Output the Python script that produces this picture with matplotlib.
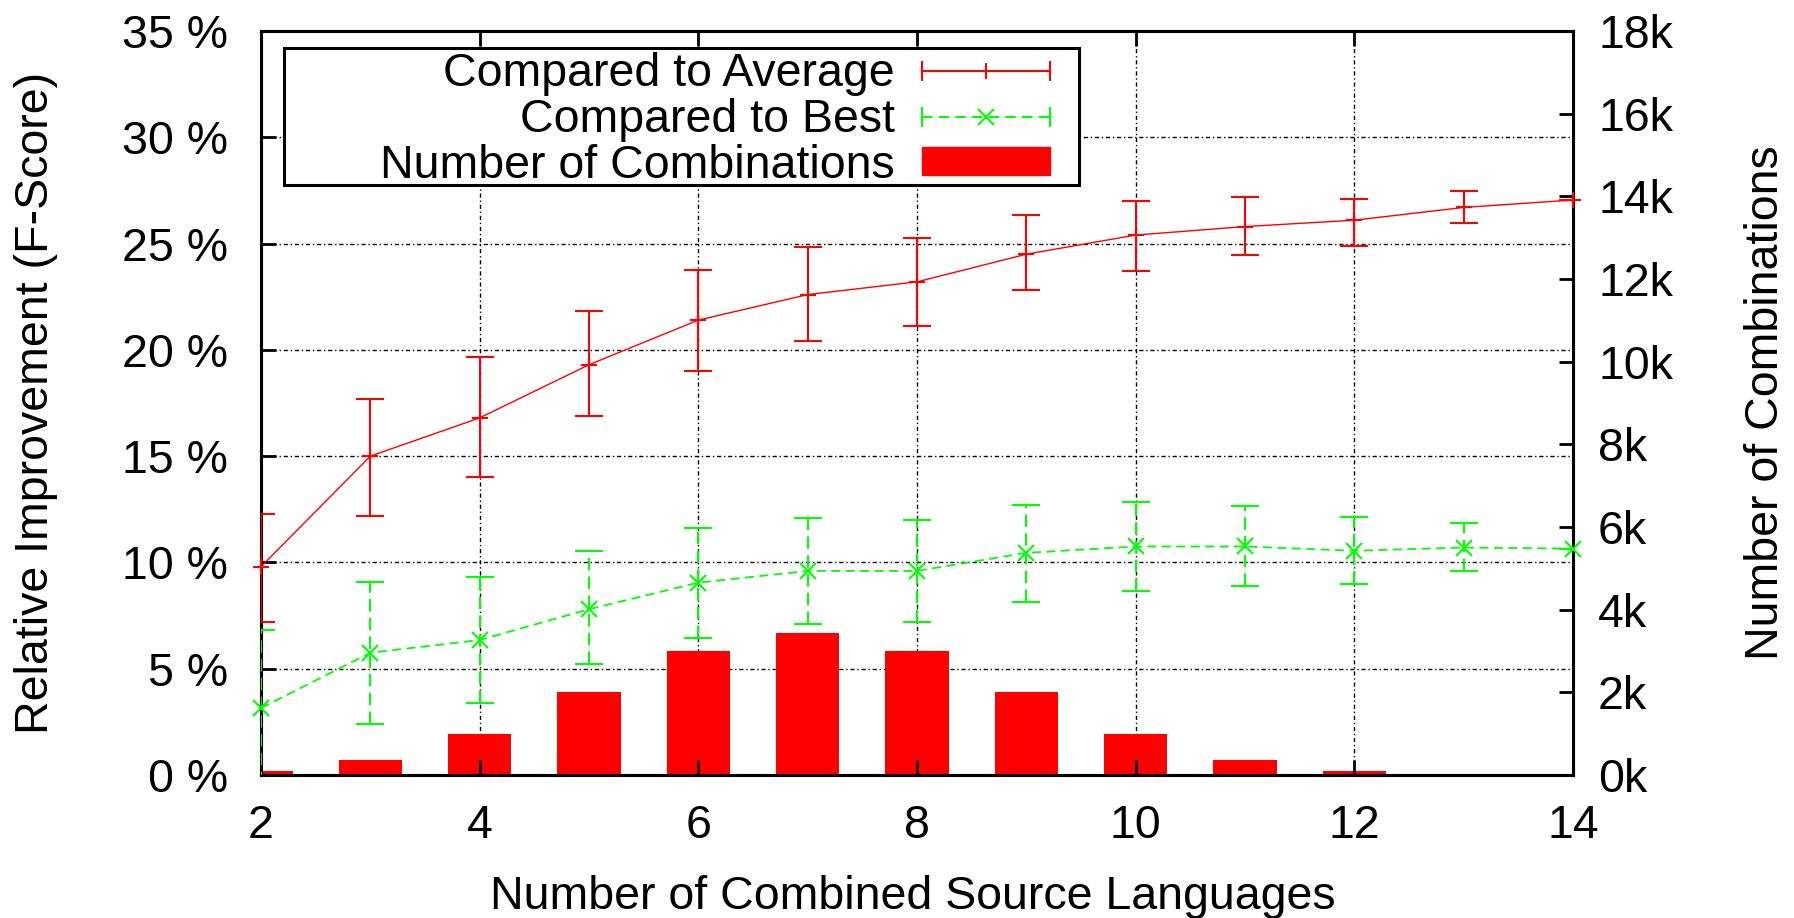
import numpy as np
import matplotlib.pyplot as plt
from matplotlib.lines import Line2D
from matplotlib.patches import Patch, Rectangle
from matplotlib.legend_handler import HandlerLine2D, HandlerTuple
from matplotlib.ticker import FuncFormatter, MultipleLocator

plt.rcParams['font.family'] = ['Liberation Sans', 'DejaVu Sans']

# number of combined source languages
n_lang = [2, 3, 4, 5, 6, 7, 8, 9, 10, 11, 12, 13, 14]

# relative improvement compared to average (%), with error range
avg_mean = [9.8, 15.0, 16.8, 19.3, 21.4, 22.6, 23.2, 24.5, 25.4, 25.8, 26.1, 26.7, 27.05]
avg_low = [7.2, 12.2, 14.0, 16.9, 19.0, 20.4, 21.1, 22.8, 23.7, 24.45, 24.9, 25.95, 27.05]
avg_high = [12.3, 17.7, 19.65, 21.85, 23.75, 24.85, 25.25, 26.35, 27.0, 27.2, 27.1, 27.45, 27.05]

# relative improvement compared to best (%), with error range
best_mean = [3.15, 5.75, 6.35, 7.8, 9.05, 9.6, 9.6, 10.45, 10.75, 10.75, 10.55, 10.7, 10.65]
best_low = [-0.4, 2.4, 3.4, 5.2, 6.45, 7.1, 7.2, 8.15, 8.65, 8.9, 9.0, 9.6, 10.65]
best_high = [6.8, 9.1, 9.3, 10.55, 11.6, 12.1, 12.0, 12.7, 12.85, 12.65, 12.15, 11.85, 10.65]

# number of combinations (right axis)
n_comb = [91, 364, 1001, 2002, 3003, 3432, 3003, 2002, 1001, 364, 91, 14, 1]

RED = '#ff0000'
GREEN = '#00ff00'
FS = 33.5

x = np.array(n_lang)
am, al, ah = np.array(avg_mean), np.array(avg_low), np.array(avg_high)
bm, bl, bh = np.array(best_mean), np.array(best_low), np.array(best_high)

fig = plt.figure(figsize=(17.94, 9.18), dpi=100)
ax = fig.add_axes([261 / 1794, 1 - 775 / 918, 1312 / 1794, 744 / 918])
ax2 = ax.twinx()
ax.set_zorder(ax2.get_zorder() + 1)
ax.patch.set_visible(False)

# bars on the right-hand scale
ax2.bar(x, n_comb, width=0.58, color=RED, zorder=3)
ax2.set_ylim(0, 18000)
ax2.yaxis.set_major_locator(MultipleLocator(2000))
ax2.yaxis.set_major_formatter(FuncFormatter(lambda v, p: f"{v / 1000:.0f}k"))

# grid sits behind the bars
grid_ls = (0, (3, 2, 1, 2))
ax2.vlines(np.arange(4, 14, 2), 0, 1, transform=ax.get_xaxis_transform(),
           colors='black', lw=1.0, linestyles=[grid_ls], zorder=1)
ax2.hlines(np.arange(5, 35, 5), 0, 1, transform=ax.get_yaxis_transform(),
           colors='black', lw=1.0, linestyles=[grid_ls], zorder=1)

# error bars (clipped) and lines/points (not clipped)
ax.errorbar(x, am, yerr=[am - al, ah - am], fmt='none', ecolor=RED,
            elinewidth=1.5, capsize=10, capthick=1.5, zorder=3)
ax.plot(x, am, color=RED, lw=1.0, marker='+', ms=11, mew=1.5, clip_on=False, zorder=4)

eb = ax.errorbar(x, bm, yerr=[bm - bl, bh - bm], fmt='none', ecolor=GREEN,
                 elinewidth=1.5, capsize=10, capthick=1.5, zorder=3)
eb[2][0].set_linestyle((0, (6, 3)))
ax.plot(x, bm, color=GREEN, lw=1.3, linestyle=(0, (5, 3)), marker='x', ms=12, mew=1.5,
        clip_on=False, zorder=4)

ax.set_xlim(2, 14)
ax.set_ylim(0, 35)
ax.xaxis.set_major_locator(MultipleLocator(2))
ax.yaxis.set_major_locator(MultipleLocator(5))
ax.yaxis.set_major_formatter(FuncFormatter(lambda v, p: f"{v:.0f} %"))

ax.tick_params(axis='x', direction='in', top=True, length=11, width=2, labelsize=FS, pad=21)
ax.tick_params(axis='y', direction='in', left=True, right=False, length=11, width=2,
               labelsize=FS, pad=24)
ax2.tick_params(axis='y', direction='in', right=True, left=False, length=10, width=2,
                labelsize=FS, pad=18)
for a in (ax, ax2):
    for s in a.spines.values():
        s.set_linewidth(2.2)

ax.set_xlabel('Number of Combined Source Languages', fontsize=FS)
ax.xaxis.set_label_coords(0.497, -0.135)
ax.set_ylabel('Relative Improvement (F-Score)', fontsize=FS)
ax.yaxis.set_label_coords(-0.155, 0.5)
ax2.set_ylabel('Number of Combinations', fontsize=FS)
ax2.yaxis.set_label_coords(1.130, 0.5)

# key box (gnuplot leaves room left of the text)
ax.add_patch(Rectangle((0.0175, 0.793), 0.606, 0.184, transform=ax.transAxes,
                       facecolor='white', edgecolor='black', lw=2.2, zorder=4.5))

# legend in gnuplot style: text right, sample left
red_line = Line2D([], [], color=RED, lw=1.5, marker='|', ms=14, mew=1.5)
red_mid = Line2D([], [], color=RED, ls='none', marker='|', ms=11, mew=1.5)
green_line = Line2D([], [], color=GREEN, lw=1.5, ls=(0, (5, 3)), marker='|', ms=14, mew=1.5)
green_mid = Line2D([], [], color=GREEN, ls='none', marker='x', ms=12, mew=1.5)
bar_patch = Patch(facecolor=RED, edgecolor=RED)
leg = ax.legend([(red_line, red_mid), (green_line, green_mid), bar_patch],
                ['Compared to Average', 'Compared to Best', 'Number of Combinations'],
                handler_map={red_line: HandlerLine2D(numpoints=2, marker_pad=0),
                             green_line: HandlerLine2D(numpoints=2, marker_pad=0),
                             red_mid: HandlerLine2D(numpoints=1),
                             green_mid: HandlerLine2D(numpoints=1),
                             tuple: HandlerTuple(ndivide=1)},
                markerfirst=False, loc='upper right',
                bbox_to_anchor=(0.6014, 0.972), borderaxespad=0, fontsize=FS,
                frameon=False, handlelength=2.75, handletextpad=0.59,
                labelspacing=0.04, borderpad=0, handleheight=0.52)
leg.set_zorder(5)

fig.savefig('out.png', dpi=100)
